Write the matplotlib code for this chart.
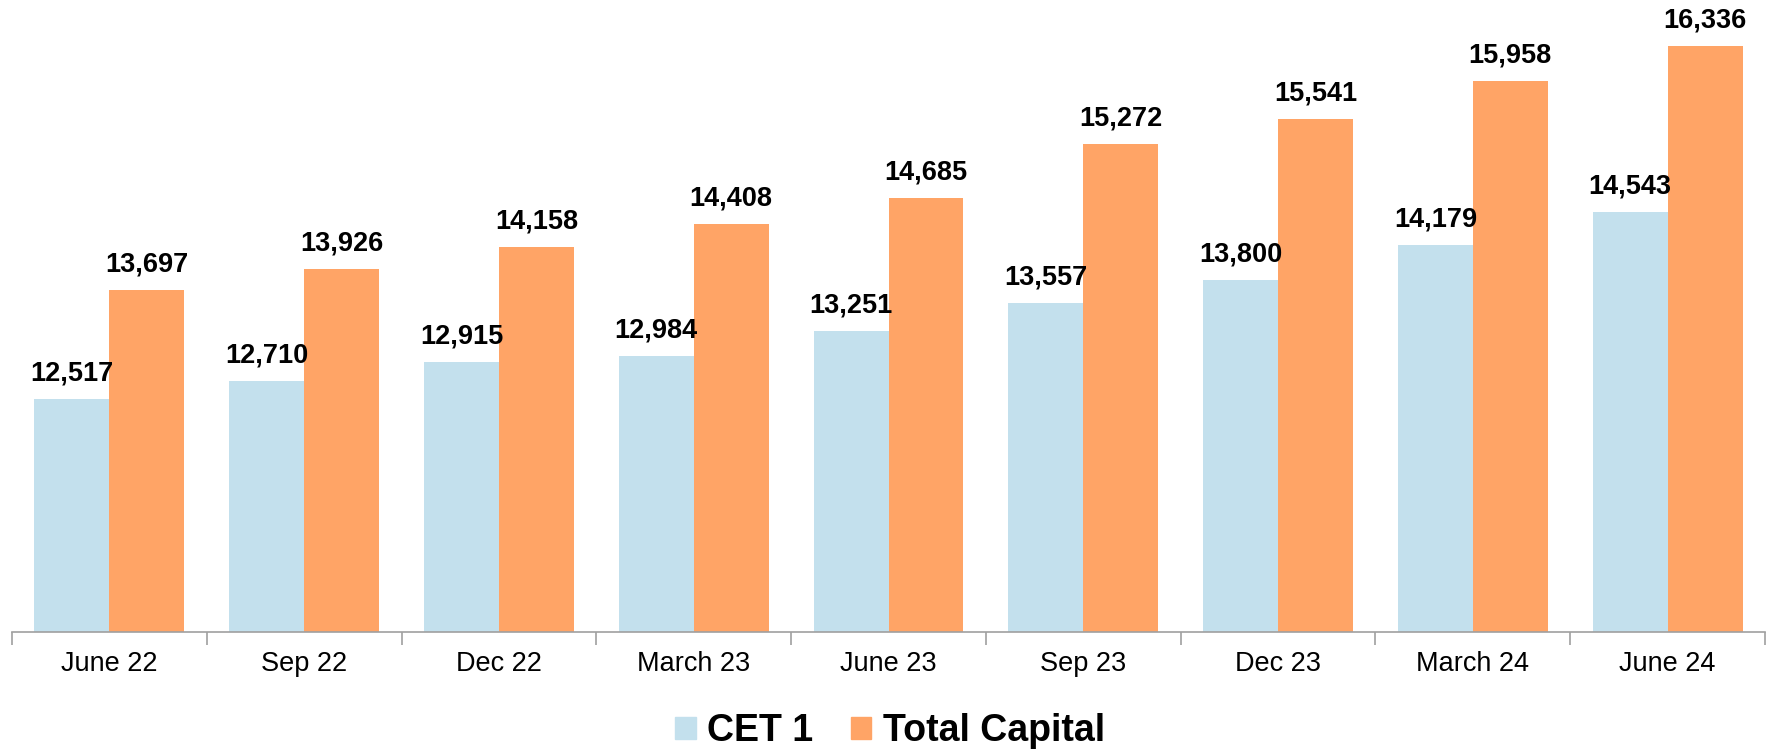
import numpy as np
import matplotlib.pyplot as plt
from matplotlib.patches import Patch

quarters = ['June 22', 'Sep 22', 'Dec 22', 'March 23', 'June 23',
            'Sep 23', 'Dec 23', 'March 24', 'June 24']
cet1 = [12517, 12710, 12915, 12984, 13251, 13557, 13800, 14179, 14543]
total_capital = [13697, 13926, 14158, 14408, 14685, 15272, 15541, 15958, 16336]

blue = '#C3E0ED'
orange = '#FFA466'

plt.rcParams['font.family'] = ['Liberation Sans', 'DejaVu Sans']

fig = plt.figure(figsize=(17.73, 7.5), dpi=100)
ax = fig.add_axes([12 / 1773, 118 / 750, 1753 / 1773, 632 / 750])

x = np.arange(len(quarters))
w = 0.385
b1 = ax.bar(x - w / 2, [v - 10000 for v in cet1], w, bottom=10000, color=blue)
b2 = ax.bar(x + w / 2, [v - 10000 for v in total_capital], w, bottom=10000, color=orange)

# value labels above each bar
for bars, vals in [(b1, cet1), (b2, total_capital)]:
    for r, v in zip(bars, vals):
        ax.annotate(f'{v:,}', (r.get_x() + r.get_width() / 2, v),
                    xytext=(0, 9), textcoords='offset points',
                    ha='center', va='bottom', fontsize=19.5, fontweight='bold')

ax.set_xlim(-0.5, len(quarters) - 0.5)
ax.set_ylim(10000, 16830)

for s in ['top', 'right', 'left']:
    ax.spines[s].set_visible(False)
ax.spines['bottom'].set_color('#A0A0A0')
ax.spines['bottom'].set_linewidth(1.2)
ax.set_yticks([])

ax.set_xticks(x)
ax.set_xticklabels(quarters, fontsize=19.5)
ax.tick_params(axis='x', which='major', length=0, pad=14)
ax.set_xticks(np.arange(-0.5, len(quarters)), minor=True)
ax.tick_params(axis='x', which='minor', length=9, color='#A0A0A0', width=1.2)

handles = [Patch(color=blue, label='CET 1'), Patch(color=orange, label='Total Capital')]
fig.legend(handles=handles, loc='center', bbox_to_anchor=(0.502, 0.025), ncol=2,
           frameon=False, prop={'size': 27, 'weight': 'bold'},
           handlelength=0.55, handleheight=0.55, handletextpad=0.3, columnspacing=1.0)

fig.savefig('out.png', dpi=100)
